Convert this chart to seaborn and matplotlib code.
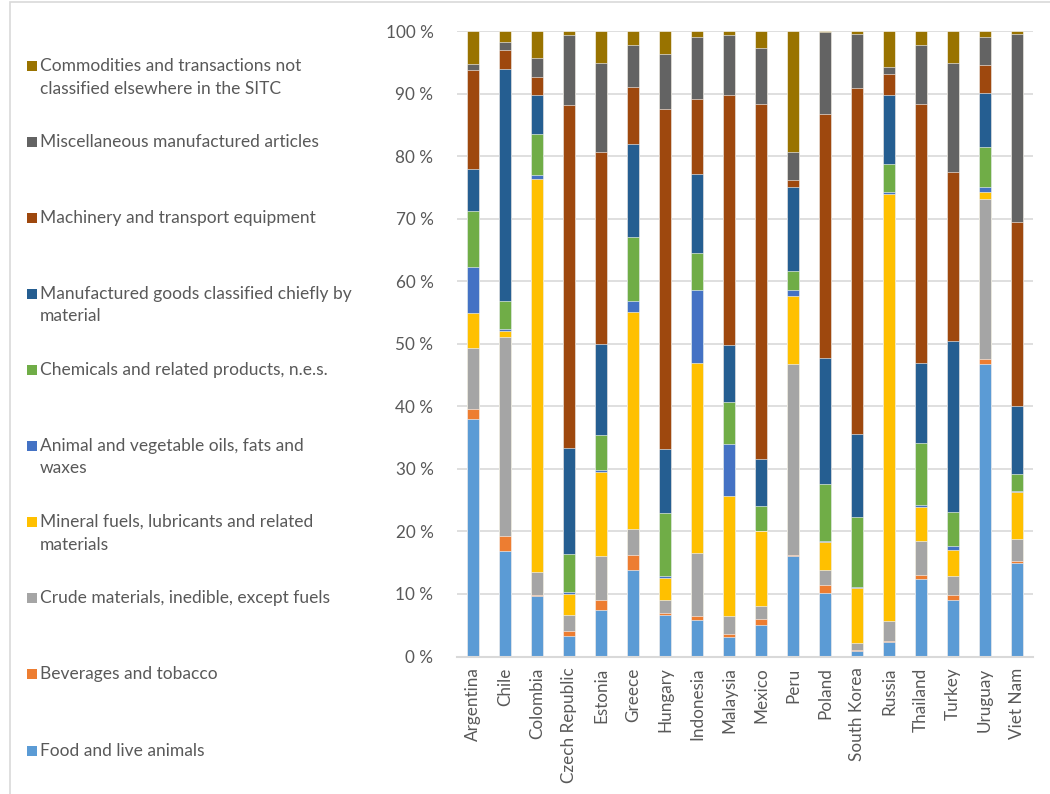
import numpy as np
import pandas as pd
import matplotlib
matplotlib.use("Agg")
import matplotlib.pyplot as plt
from matplotlib.patches import Rectangle
from matplotlib.ticker import FixedLocator
import seaborn as sns

# Export structure by SITC section, share of total (%)
countries = ["Argentina", "Chile", "Colombia", "Czech Republic", "Estonia", "Greece",
             "Hungary", "Indonesia", "Malaysia", "Mexico", "Peru", "Poland",
             "South Korea", "Russia", "Thailand", "Turkey", "Uruguay", "Viet Nam"]

food        = [37.9, 16.8,  9.6,  3.3,  7.5, 13.9,  6.6,  5.9,  3.1,  5.0, 16.1, 10.1,  0.8,  2.3, 12.4,  9.1, 46.7, 14.9]
beverages   = [ 1.7,  2.5,  0.3,  0.7,  1.5,  2.4,  0.4,  0.5,  0.5,  1.0,  0.2,  1.4,  0.2,  0.2,  0.6,  0.7,  0.8,  0.4]
crude       = [ 9.8, 31.8,  3.6,  2.6,  7.0,  4.1,  2.1, 10.2,  2.9,  2.0, 30.4,  2.4,  1.2,  3.2,  5.5,  3.1, 25.7,  3.5]
mineral     = [ 5.5,  1.0, 62.8,  3.4, 13.5, 34.7,  3.4, 30.4, 19.2, 12.0, 10.9,  4.4,  8.8, 68.2,  5.4,  4.1,  1.1,  7.5]
oils        = [ 7.3,  0.2,  0.7,  0.3,  0.3,  1.7,  0.4, 11.6,  8.2,  0.1,  1.0,  0.2,  0.1,  0.4,  0.3,  0.7,  0.8,  0.1]
chemicals   = [ 9.0,  4.6,  6.6,  6.1,  5.6, 10.2, 10.0,  5.9,  6.8,  4.0,  3.0,  9.0, 11.2,  4.5, 10.0,  5.4,  6.4,  2.8]
manufacture = [ 6.8, 37.1,  6.2, 16.9, 14.6, 15.0, 10.2, 12.7,  9.1,  7.4, 13.5, 20.2, 13.2, 10.9, 12.7, 27.4,  8.6, 10.8]
machinery   = [15.7,  2.9,  2.9, 54.8, 30.7,  9.0, 54.5, 12.0, 39.9, 56.8,  1.1, 39.0, 55.4,  3.5, 41.5, 26.9,  4.4, 29.5]
misc        = [ 1.1,  1.4,  3.0, 11.3, 14.2,  6.7,  8.8,  9.9,  9.7,  9.0,  4.4, 13.1,  8.7,  1.0,  9.4, 17.5,  4.5, 30.1]
commodities = [ 5.2,  1.7,  4.3,  0.6,  5.1,  2.3,  3.6,  0.9,  0.6,  2.7, 19.4,  0.2,  0.4,  5.8,  2.2,  5.1,  1.0,  0.4]

# Stacking order, bottom to top
categories = [
    ("Food and live animals", food, "#5B9BD5"),
    ("Beverages and tobacco", beverages, "#ED7D31"),
    ("Crude materials, inedible, except fuels", crude, "#A5A5A5"),
    ("Mineral fuels, lubricants and related\nmaterials", mineral, "#FFC000"),
    ("Animal and vegetable oils, fats and\nwaxes", oils, "#4472C4"),
    ("Chemicals and related products, n.e.s.", chemicals, "#70AD47"),
    ("Manufactured goods classified chiefly by\nmaterial", manufacture, "#255E91"),
    ("Machinery and transport equipment", machinery, "#9E480E"),
    ("Miscellaneous manufactured articles", misc, "#636363"),
    ("Commodities and transactions not\nclassified elsewhere in the SITC", commodities, "#997300"),
]

sns.set_theme(style="white")
plt.rcParams["font.family"] = ["Lato", "DejaVu Sans"]
TEXT = "#595959"
GRID = "#D9D9D9"

W, H = 1050, 794
fig = plt.figure(figsize=(W / 100, H / 100), dpi=100)
ax = fig.add_axes([457 / W, 1 - 656.5 / H, 576 / W, 625.5 / H])

# Cumulative shares so each section sits on top of the ones below it
values = np.array([c[1] for c in categories], dtype=float)
shares = values / values.sum(axis=0, keepdims=True)
cumulative = np.cumsum(shares, axis=0)

for i in range(len(categories) - 1, -1, -1):
    df = pd.DataFrame({"country": countries, "share": cumulative[i]})
    sns.barplot(data=df, x="country", y="share", color=categories[i][2],
                width=0.38, saturation=1, edgecolor="white", linewidth=0.4,
                ax=ax, zorder=3, errorbar=None)

ax.set_xlim(-0.5, len(countries) - 0.5)
ax.set_ylim(0, 1)
ax.yaxis.set_major_locator(FixedLocator(np.arange(0, 1.01, 0.1)))
ax.set_yticklabels([f"{int(round(v * 100))} %" for v in np.arange(0, 1.01, 0.1)])
ax.grid(axis="y", color=GRID, linewidth=1.2, zorder=0)
ax.grid(axis="x", visible=False)
for side in ["top", "right", "left"]:
    ax.spines[side].set_visible(False)
ax.spines["bottom"].set_color(GRID)
ax.spines["bottom"].set_linewidth(1.5)
ax.spines["bottom"].set_zorder(4)
ax.set_xlabel("")
ax.set_ylabel("")
ax.tick_params(axis="y", length=0, pad=17, labelsize=12.3, labelcolor=TEXT)
ax.tick_params(axis="x", length=0, pad=8, labelsize=12.3, labelcolor=TEXT, rotation=90)

# Legend column on the left, top entry first
legend_y = [751, 674, 598, 522, 446, 370, 294, 218, 142, 66]
for (label, _, color), y in zip(categories, legend_y):
    fig.add_artist(Rectangle((27 / W, 1 - (y + 5) / H), 10 / W, 10 / H,
                             transform=fig.transFigure, facecolor=color,
                             edgecolor="none"))
    fig.text(40 / W, 1 - (y - 8) / H, label, ha="left", va="top",
             fontsize=12.5, color=TEXT, linespacing=1.5)

# Chart area border
fig.add_artist(Rectangle((10 / W, -0.05), 1.2, 1.05 - 2 / H,
                         transform=fig.transFigure, fill=False,
                         edgecolor=GRID, linewidth=1.2))

fig.savefig("out.png", dpi=100)
